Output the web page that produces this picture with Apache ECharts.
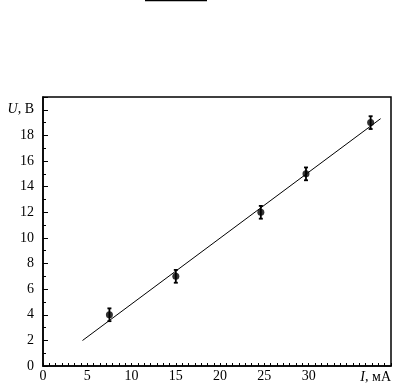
<!DOCTYPE html>
<html>
<head>
<meta charset="utf-8">
<script src="https://cdn.jsdelivr.net/npm/echarts@6/dist/echarts.min.js"></script>
<style>html,body{margin:0;padding:0;background:#fff}#c{width:394px;height:390px}</style>
</head>
<body>
<div id="c"></div>
<script>
// measured data
var currentI = [7.5, 15, 24.6, 29.7, 37];      // I, mA
var voltageU = [4.0, 7.0, 12.0, 15.0, 19.0];   // U, V
var errorU   = [0.5, 0.5, 0.5, 0.5, 0.5];      // ± error
// fitted straight line end points
var fitI = [4.46, 38.13];
var fitU = [1.99, 19.31];
// axis settings
var xTickLabels = ['0','5','10','15','20','25','30',''];
var yTickLabels = ['0','2','4','6','8','10','12','14','16','18','{it|U}, В'];

var font = 'Liberation Serif';
var fs = 14;
var chart = echarts.init(document.getElementById('c'), null, {renderer:'canvas'});

var pts = currentI.map(function(x,i){return [x, voltageU[i]];});
var errs = currentI.map(function(x,i){return [x, voltageU[i]-errorU[i], voltageU[i]+errorU[i]];});
var fit = fitI.map(function(x,i){return [x, fitU[i]];});

chart.setOption({
  animation:false,
  backgroundColor:'#fff',
  graphic:[{type:'line', shape:{x1:145,y1:0.5,x2:207,y2:0.5}, style:{stroke:'#000', lineWidth:1.5}}],
  grid:{left:43, top:97, right:1.3, bottom:24, show:true, borderColor:'#000', borderWidth:1.5},
  xAxis:{
    type:'value', min:0, max:39.3, interval:5,
    axisLine:{lineStyle:{color:'#000', width:1.5}},
    axisTick:{inside:true, length:3, lineStyle:{color:'#000'}},
    minorTick:{show:true, splitNumber:7, length:3, lineStyle:{color:'#000'}},
    splitLine:{show:false},
    axisLabel:{color:'#000', fontFamily:font, fontSize:fs, margin:3,
      formatter:function(v){var k=Math.round(v/5); return xTickLabels[k]!==undefined?xTickLabels[k]:'';}},
    name:'{it|I}, мА', nameLocation:'end', nameGap:0,
    nameTextStyle:{color:'#000', fontFamily:font, fontSize:fs, align:'right', verticalAlign:'top', padding:[4,0,0,0],
      rich:{it:{fontStyle:'italic', fontFamily:font, fontSize:fs, color:'#000'}}}
  },
  yAxis:{
    type:'value', min:0, max:21, interval:2,
    axisLine:{lineStyle:{color:'#000', width:1.5}},
    axisTick:{inside:true, length:5, lineStyle:{color:'#000'}},
    minorTick:{show:true, splitNumber:2, length:3, lineStyle:{color:'#000'}},
    splitLine:{show:false},
    axisLabel:{color:'#000', fontFamily:font, fontSize:fs, margin:9,
      formatter:function(v){var k=Math.round(v/2); return yTickLabels[k]!==undefined?yTickLabels[k]:'';},
      rich:{it:{fontStyle:'italic', fontFamily:font, fontSize:fs, color:'#000'}}}
  },
  series:[
    {type:'line', data:fit, showSymbol:false, symbol:'none', lineStyle:{color:'#000', width:1}, silent:true},
    {type:'custom', data:errs, renderItem:function(params, api){
        var x=api.value(0), lo=api.coord([x, api.value(1)]), hi=api.coord([x, api.value(2)]);
        var c=2;
        return {type:'group', children:[
          {type:'line', shape:{x1:lo[0],y1:lo[1],x2:hi[0],y2:hi[1]}, style:{stroke:'#000', lineWidth:1.8}},
          {type:'line', shape:{x1:lo[0]-c,y1:lo[1],x2:lo[0]+c,y2:lo[1]}, style:{stroke:'#000', lineWidth:1.8}},
          {type:'line', shape:{x1:hi[0]-c,y1:hi[1],x2:hi[0]+c,y2:hi[1]}, style:{stroke:'#000', lineWidth:1.8}}
        ]};
      }, z:3},
    {type:'scatter', data:pts, symbol:'circle', symbolSize:7, itemStyle:{color:'#000'}, z:4}
  ]
});
</script>
</body>
</html>
